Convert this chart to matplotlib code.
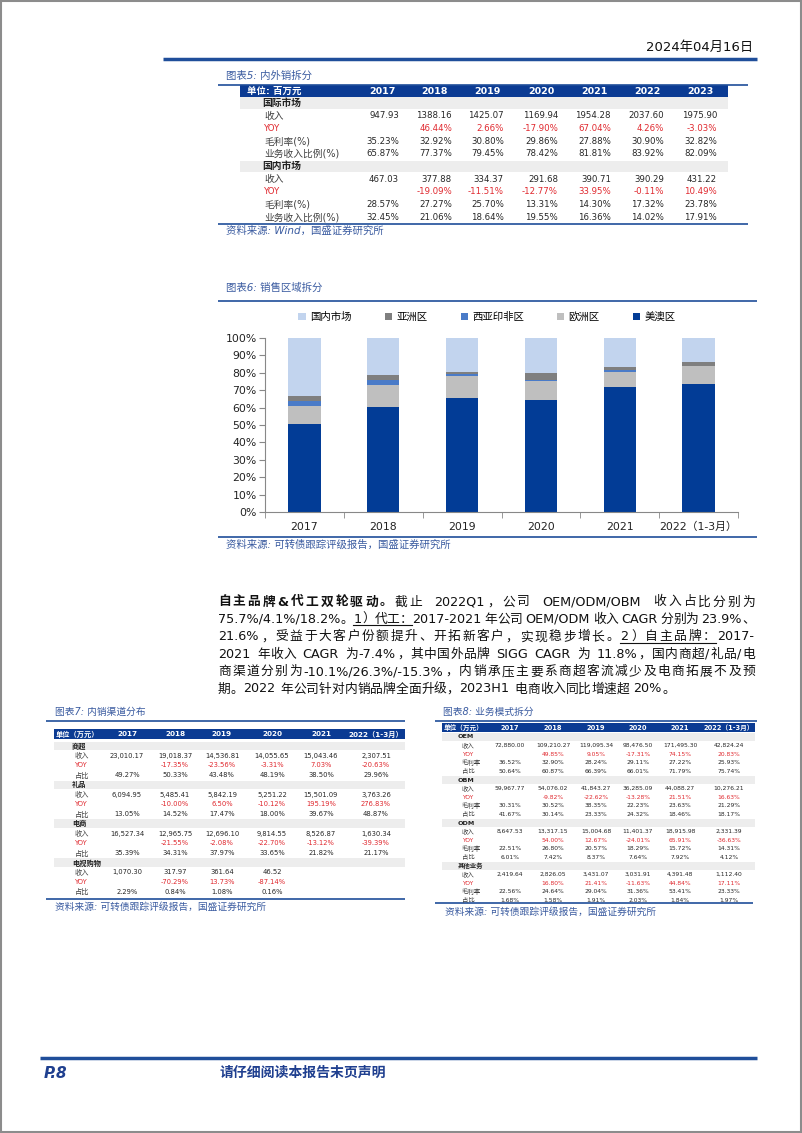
import matplotlib
matplotlib.use('Agg')
import matplotlib.pyplot as plt
from matplotlib.patches import Rectangle
import numpy as np

plt.rcParams['font.family'] = ['DejaVu Sans', 'Noto Sans CJK SC']

BLUE_LINE = '#1F4E9A'
HEAD_BLUE = '#0B3B93'
TITLE_BLUE = '#3A5BA0'
RED = '#E0282E'
GRAY_BAND = '#EDEDED'
TXT = '#262626'
LBL = '#404040'

# ---------------- data: 图表5 内外销拆分 ----------------
t5_cols = ['2017', '2018', '2019', '2020', '2021', '2022', '2023']
intl_rev = ['947.93', '1388.16', '1425.07', '1169.94', '1954.28', '2037.60', '1975.90']
intl_yoy = ['', '46.44%', '2.66%', '-17.90%', '67.04%', '4.26%', '-3.03%']
intl_gm = ['35.23%', '32.92%', '30.80%', '29.86%', '27.88%', '30.90%', '32.82%']
intl_share = ['65.87%', '77.37%', '79.45%', '78.42%', '81.81%', '83.92%', '82.09%']
dom_rev = ['467.03', '377.88', '334.37', '291.68', '390.71', '390.29', '431.22']
dom_yoy = ['', '-19.09%', '-11.51%', '-12.77%', '33.95%', '-0.11%', '10.49%']
dom_gm = ['28.57%', '27.27%', '25.70%', '13.31%', '14.30%', '17.32%', '23.78%']
dom_share = ['32.45%', '21.06%', '18.64%', '19.55%', '16.36%', '14.02%', '17.91%']

# ---------------- data: 图表6 销售区域拆分 (%) ----------------
regions_cats = ['2017', '2018', '2019', '2020', '2021', '2022（1-3月）']
us_au = [50.6, 60.2, 65.5, 64.4, 71.6, 73.8]      # 美澳区
europe = [10.5, 12.8, 12.9, 10.9, 9.1, 9.9]       # 欧洲区
wasia_af = [2.5, 3.1, 0.7, 0.8, 0.7, 0.3]         # 西亚印非区
asia = [3.3, 2.4, 1.6, 3.8, 1.9, 2.2]             # 亚洲区
domestic = [33.1, 21.5, 19.3, 20.1, 16.7, 13.8]   # 国内市场

# ---------------- data: 图表7 内销渠道分布 ----------------
t7_cols = ['2017', '2018', '2019', '2020', '2021', '2022（1-3月）']
sc_rev = ['23,010.17', '19,018.37', '14,536.81', '14,055.65', '15,043.46', '2,307.51']
sc_yoy = ['', '-17.35%', '-23.56%', '-3.31%', '7.03%', '-20.63%']
sc_share = ['49.27%', '50.33%', '43.48%', '48.19%', '38.50%', '29.96%']
lp_rev = ['6,094.95', '5,485.41', '5,842.19', '5,251.22', '15,501.09', '3,763.26']
lp_yoy = ['', '-10.00%', '6.50%', '-10.12%', '195.19%', '276.83%']
lp_share = ['13.05%', '14.52%', '17.47%', '18.00%', '39.67%', '48.87%']
ds_rev = ['16,527.34', '12,965.75', '12,696.10', '9,814.55', '8,526.87', '1,630.34']
ds_yoy = ['', '-21.55%', '-2.08%', '-22.70%', '-13.12%', '-39.39%']
ds_share = ['35.39%', '34.31%', '37.97%', '33.65%', '21.82%', '21.17%']
tv_rev = ['1,070.30', '317.97', '361.64', '46.52', '', '']
tv_yoy = ['', '-70.29%', '13.73%', '-87.14%', '', '']
tv_share = ['2.29%', '0.84%', '1.08%', '0.16%', '', '']

# ---------------- data: 图表8 业务模式拆分 ----------------
t8_cols = ['2017', '2018', '2019', '2020', '2021', '2022（1-3月）']
oem_rev = ['72,880.00', '109,210.27', '119,095.34', '98,476.50', '171,495.30', '42,824.24']
oem_yoy = ['', '49.85%', '9.05%', '-17.31%', '74.15%', '20.83%']
oem_gm = ['36.52%', '32.90%', '28.24%', '29.11%', '27.22%', '25.93%']
oem_share = ['50.64%', '60.87%', '66.39%', '66.01%', '71.79%', '75.74%']
obm_rev = ['59,967.77', '54,076.02', '41,843.27', '36,285.09', '44,088.27', '10,276.21']
obm_yoy = ['', '-9.82%', '-22.62%', '-13.28%', '21.51%', '16.63%']
obm_gm = ['30.31%', '30.52%', '38.35%', '22.23%', '23.63%', '21.29%']
obm_share = ['41.67%', '30.14%', '23.33%', '24.32%', '18.46%', '18.17%']
odm_rev = ['8,647.53', '13,317.15', '15,004.68', '11,401.37', '18,915.98', '2,331.39']
odm_yoy = ['', '54.00%', '12.67%', '-24.01%', '65.91%', '-36.63%']
odm_gm = ['22.51%', '26.80%', '20.57%', '18.29%', '15.72%', '14.31%']
odm_share = ['6.01%', '7.42%', '8.37%', '7.64%', '7.92%', '4.12%']
oth_rev = ['2,419.64', '2,826.05', '3,431.07', '3,031.91', '4,391.48', '1,112.40']
oth_yoy = ['', '16.80%', '21.41%', '-11.63%', '44.84%', '17.11%']
oth_gm = ['22.56%', '24.64%', '29.04%', '31.36%', '53.41%', '23.33%']
oth_share = ['1.68%', '1.58%', '1.91%', '2.03%', '1.84%', '1.97%']

# ---------------- paragraph ----------------
para_lines = [
    [('自主品牌&代工双轮驱动。', 'b'), ('截止 2022Q1，公司 OEM/ODM/OBM 收入占比分别为', '')],
    [('75.7%/4.1%/18.2%。', ''), ('1）代工：', 'u'), ('2017-2021 年公司 OEM/ODM 收入 CAGR 分别为 23.9%、', '')],
    [('21.6%，受益于大客户份额提升、开拓新客户，实现稳步增长。', ''), ('2）自主品牌：', 'u'), ('2017-', '')],
    [('2021 年收入 CAGR 为-7.4%，其中国外品牌 SIGG CAGR 为 11.8%，国内商超/礼品/电', '')],
    [('商渠道分别为-10.1%/26.3%/-15.3%，内销承压主要系商超客流减少及电商拓展不及预', '')],
    [('期。2022 年公司针对内销品牌全面升级，2023H1 电商收入同比增速超 20%。', '')],
]

fig = plt.figure(figsize=(8.02, 11.33), dpi=100)
ax = fig.add_axes([0, 0, 1, 1])
ax.set_xlim(0, 802)
ax.set_ylim(1133, 0)
ax.axis('off')
renderer = fig.canvas.get_renderer()


def hline(x0, x1, y, lw=1.2, color=BLUE_LINE):
    ax.plot([x0, x1], [y, y], color=color, lw=lw, solid_capstyle='butt')


def title(x, y, s, fs=7.5):
    ax.text(x, y, s, fontsize=fs, color=TITLE_BLUE, style='italic', va='center', ha='left')


def draw_table(x0, x1, hy0, hy1, first, fx, cols, col_x, groups, y0, step,
               gx, sx, fs, hfs, lfs, align='center', dx=0):
    ax.add_patch(Rectangle((x0, hy0), x1 - x0, hy1 - hy0, fc=HEAD_BLUE, ec='none'))
    yc = (hy0 + hy1) / 2
    ax.text(fx, yc, first, color='white', weight='bold', fontsize=hfs, va='center', ha='left')
    for c, x in zip(cols, col_x):
        ax.text(x, yc, c, color='white', weight='bold', fontsize=hfs, va='center', ha='center')
    y = y0
    for name, rows in groups:
        ax.add_patch(Rectangle((x0, y - step / 2 + 0.5), x1 - x0, step - 1, fc=GRAY_BAND, ec='none'))
        ax.text(gx, y, name, weight='bold', fontsize=lfs, color='#222222', va='center', ha='left')
        y += step
        for lab, vals in rows:
            red = lab == 'YOY'
            ax.text(sx, y, lab, fontsize=lfs if not red else fs, color=RED if red else LBL,
                    va='center', ha='left')
            for v, x in zip(vals, col_x):
                ax.text(x + dx, y, v, fontsize=fs, color=RED if red else TXT, va='center', ha=align)
            y += step


# ---------------- page frame & header ----------------
ax.add_patch(Rectangle((0.8, 0.8), 800.4, 1131.4, fc='none', ec='#8C8C8C', lw=1.5))
ax.text(753, 47, '2024年04月16日', fontsize=9.5, color='#111111', ha='right', va='center')
hline(163, 757, 59, lw=2.5)

# ---------------- 图表5 ----------------
title(226, 76, '图表5: 内外销拆分')
hline(218, 748, 84.5)
t5_x = [382, 435, 487, 541, 594, 647, 700]
draw_table(240, 728, 85, 97, '单位: 百万元', 247, t5_cols, t5_x,
           [('国际市场', [('收入', intl_rev), ('YOY', intl_yoy), ('毛利率(%)', intl_gm),
                          ('业务收入比例(%)', intl_share)]),
            ('国内市场', [('收入', dom_rev), ('YOY', dom_yoy), ('毛利率(%)', dom_gm),
                          ('业务收入比例(%)', dom_share)])],
           103, 12.7, 262, 264, 6.2, 6.8, 7.0, align='right', dx=17)
hline(218, 748, 224)
title(226, 231, '资料来源: Wind，国盛证券研究所')

# ---------------- 图表6 ----------------
title(226, 288, '图表6: 销售区域拆分')
hline(218, 757, 301)
cax = fig.add_axes([265 / 802, 1 - 512 / 1133, (738 - 265) / 802, (512 - 338) / 1133])
xpos = np.arange(len(regions_cats))
stack = [('美澳区', us_au, '#023C96'), ('欧洲区', europe, '#BFBFBF'),
         ('西亚印非区', wasia_af, '#4A7BC8'), ('亚洲区', asia, '#7F7F7F'),
         ('国内市场', domestic, '#C2D4EE')]
bottom = np.zeros(len(regions_cats))
for name, vals, color in stack:
    cax.bar(xpos, vals, 0.41, bottom=bottom, color=color, label=name)
    bottom += np.array(vals)
cax.set_xlim(-0.5, len(regions_cats) - 0.5)
cax.set_ylim(0, 100)
cax.set_yticks(range(0, 101, 10))
cax.set_yticklabels([f'{v}%' for v in range(0, 101, 10)])
cax.set_xticks(xpos)
cax.set_xticklabels(regions_cats)
cax.set_xticks(np.arange(-0.5, len(regions_cats)), minor=True)
cax.tick_params(axis='x', which='major', length=0, pad=7, labelsize=7.8, labelcolor='#222222')
cax.tick_params(axis='x', which='minor', length=4, color='#888888')
cax.tick_params(axis='y', length=4, color='#888888', labelsize=7.8, labelcolor='#222222', pad=2)
for s in ['top', 'right']:
    cax.spines[s].set_visible(False)
for s in ['left', 'bottom']:
    cax.spines[s].set_color('#888888')
    cax.spines[s].set_linewidth(0.8)
h, l = cax.get_legend_handles_labels()
cax.legend(h[::-1], l[::-1], ncol=5, loc='center', bbox_to_anchor=(487 / 802, 1 - 317 / 1133),
           bbox_transform=fig.transFigure, frameon=False, fontsize=7.5, handlelength=0.7,
           handleheight=0.7, handletextpad=0.4, columnspacing=3.2)
hline(218, 757, 537)
title(226, 545, '资料来源: 可转债跟踪评级报告，国盛证券研究所')

# ---------------- paragraph (justified) ----------------
FS_P = 9.2
EM = FS_P * 100 / 72
left, right = 218, 755
for i, segs in enumerate(para_lines):
    base = 605.5 + 17.4 * i
    toks = []
    for si, (s, style) in enumerate(segs):
        j = 0
        while j < len(s):
            ch = s[j]
            if ch == ' ':
                toks.append((None, style, si))
                j += 1
            elif ord(ch) < 128:
                k = j
                while k < len(s) and ord(s[k]) < 128 and s[k] != ' ':
                    k += 1
                toks.append((s[j:k], style, si))
                j = k
            else:
                toks.append((ch, style, si))
                j += 1
    items = []
    for tok, style, si in toks:
        if tok is None:
            items.append((None, style, si, EM * 0.32, 3.0, False))
            continue
        wide = ord(tok[0]) >= 128
        t = ax.text(0, base, tok, fontsize=FS_P, color='#111111', va='baseline',
                    ha='center' if wide else 'left',
                    weight='bold' if style == 'b' else 'normal')
        if wide:
            w = EM
        else:
            w = t.get_window_extent(renderer).width + 0.8
        items.append((t, style, si, w, 1.0, wide))
    total = sum(it[3] for it in items)
    last = i == len(para_lines) - 1
    wsum = sum(it[4] for it in items[1:])
    unit = 0 if last else (right - left - total) / wsum
    x = left
    ul = {}
    for n, (t, style, si, w, wt, wide) in enumerate(items):
        if n > 0:
            x += unit * wt
        if t is not None:
            t.set_x(x + w / 2 if wide else x)
        if style == 'u':
            ul.setdefault(si, []).append((x, x + w))
        x += w
    for spans in ul.values():
        ax.plot([spans[0][0], spans[-1][1]], [base + 2.5, base + 2.5], color='#111111', lw=0.8)

# ---------------- 图表7 ----------------
title(55, 712, '图表7: 内销渠道分布', fs=7)
hline(46, 405, 721)
t7_x = [127, 175, 222, 272, 321, 376]
draw_table(54, 405, 729, 739, '单位（万元）', 56, t7_cols, t7_x,
           [('商超', [('收入', sc_rev), ('YOY', sc_yoy), ('占比', sc_share)]),
            ('礼品', [('收入', lp_rev), ('YOY', lp_yoy), ('占比', lp_share)]),
            ('电商', [('收入', ds_rev), ('YOY', ds_yoy), ('占比', ds_share)]),
            ('电视购物', [('收入', tv_rev), ('YOY', tv_yoy), ('占比', tv_share)])],
           746, 9.73, 72, 75, 4.9, 5.2, 5.2)
hline(46, 405, 899)
title(55, 907, '资料来源: 可转债跟踪评级报告，国盛证券研究所', fs=7)

# ---------------- 图表8 ----------------
title(443, 712, '图表8: 业务模式拆分', fs=7)
hline(435, 757, 721)
t8_x = [510, 553, 596, 638, 680, 729]
draw_table(442, 755, 723, 732, '单位（万元）', 444, t8_cols, t8_x,
           [('OEM', [('收入', oem_rev), ('YOY', oem_yoy), ('毛利率', oem_gm), ('占比', oem_share)]),
            ('OBM', [('收入', obm_rev), ('YOY', obm_yoy), ('毛利率', obm_gm), ('占比', obm_share)]),
            ('ODM', [('收入', odm_rev), ('YOY', odm_yoy), ('毛利率', odm_gm), ('占比', odm_share)]),
            ('其他业务', [('收入', oth_rev), ('YOY', oth_yoy), ('毛利率', oth_gm), ('占比', oth_share)])],
           737, 8.6, 458, 462, 4.3, 4.8, 4.6)
hline(435, 753, 903)
title(445, 912, '资料来源: 可转债跟踪评级报告，国盛证券研究所', fs=7)

# ---------------- footer ----------------
hline(40, 757, 1058, lw=2.5)
ax.text(44, 1073, 'P.8', fontsize=11, weight='bold', style='italic', color='#1F3F8F', va='center')
ax.text(220, 1073, '请仔细阅读本报告末页声明', fontsize=10, weight='bold', color='#1F3F8F', va='center')

fig.savefig('out.png', dpi=100)
